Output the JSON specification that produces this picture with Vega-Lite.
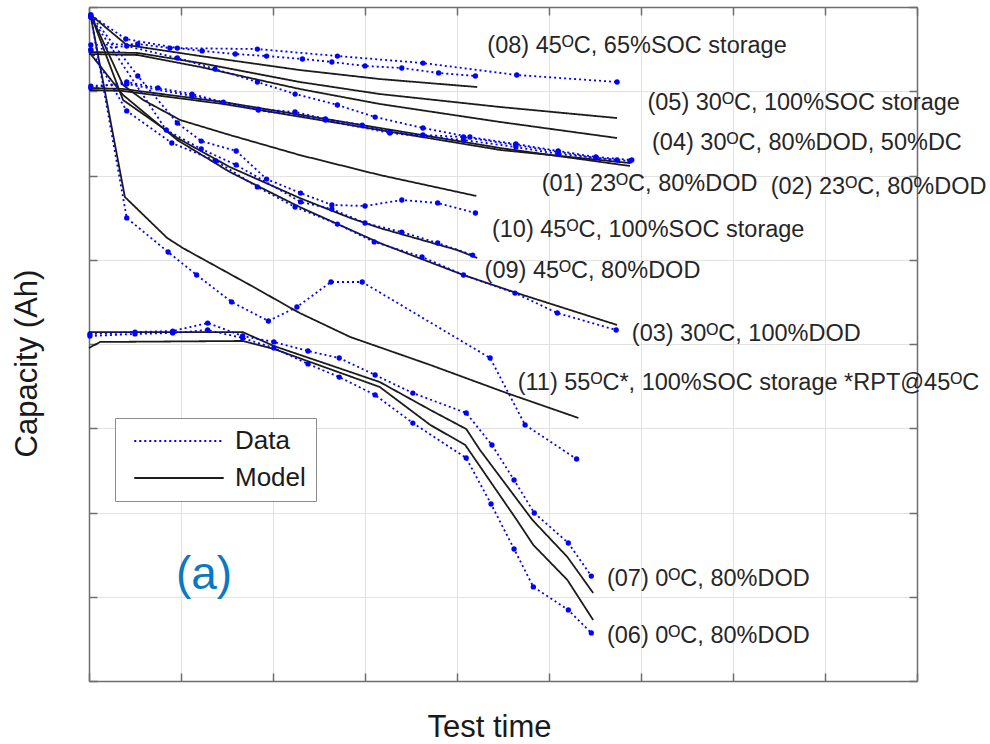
{
  "$schema": "https://vega.github.io/schema/vega-lite/v6.json",
  "width": 828,
  "height": 674,
  "autosize": "none",
  "padding": {"left": 89, "top": 7, "right": 73, "bottom": 63},
  "background": "white",
  "config": {"font": "Liberation Sans", "view": {"stroke": null}},
  "datasets": {
    "curves": [
      {"s": "08", "k": "Data", "t": 0.02, "c": 7.905},
      {"s": "08", "k": "Data", "t": 0.40, "c": 7.620},
      {"s": "08", "k": "Data", "t": 0.96, "c": 7.513},
      {"s": "08", "k": "Data", "t": 1.23, "c": 7.478},
      {"s": "08", "k": "Data", "t": 1.59, "c": 7.442},
      {"s": "08", "k": "Data", "t": 1.93, "c": 7.418},
      {"s": "08", "k": "Data", "t": 2.32, "c": 7.383},
      {"s": "08", "k": "Data", "t": 2.64, "c": 7.347},
      {"s": "08", "k": "Data", "t": 3.00, "c": 7.300},
      {"s": "08", "k": "Data", "t": 3.40, "c": 7.276},
      {"s": "08", "k": "Data", "t": 3.80, "c": 7.217},
      {"s": "08", "k": "Data", "t": 4.20, "c": 7.181},
      {"s": "08", "k": "Model", "t": 0.02, "c": 7.905},
      {"s": "08", "k": "Model", "t": 0.41, "c": 7.549},
      {"s": "08", "k": "Model", "t": 1.21, "c": 7.418},
      {"s": "08", "k": "Model", "t": 2.29, "c": 7.252},
      {"s": "08", "k": "Model", "t": 3.16, "c": 7.145},
      {"s": "08", "k": "Model", "t": 4.22, "c": 7.050},

      {"s": "05", "k": "Data", "t": 0.02, "c": 7.549},
      {"s": "05", "k": "Data", "t": 0.53, "c": 7.561},
      {"s": "05", "k": "Data", "t": 0.88, "c": 7.513},
      {"s": "05", "k": "Data", "t": 1.83, "c": 7.501},
      {"s": "05", "k": "Data", "t": 2.70, "c": 7.418},
      {"s": "05", "k": "Data", "t": 3.63, "c": 7.335},
      {"s": "05", "k": "Data", "t": 4.65, "c": 7.193},
      {"s": "05", "k": "Data", "t": 5.74, "c": 7.110},
      {"s": "05", "k": "Model", "t": 0.00, "c": 7.466},
      {"s": "05", "k": "Model", "t": 0.53, "c": 7.454},
      {"s": "05", "k": "Model", "t": 1.21, "c": 7.335},
      {"s": "05", "k": "Model", "t": 2.29, "c": 7.110},
      {"s": "05", "k": "Model", "t": 3.16, "c": 6.967},
      {"s": "05", "k": "Model", "t": 4.47, "c": 6.813},
      {"s": "05", "k": "Model", "t": 5.74, "c": 6.682},

      {"s": "04", "k": "Data", "t": 0.02, "c": 7.490},
      {"s": "04", "k": "Data", "t": 0.41, "c": 7.537},
      {"s": "04", "k": "Data", "t": 0.96, "c": 7.395},
      {"s": "04", "k": "Data", "t": 1.37, "c": 7.264},
      {"s": "04", "k": "Data", "t": 1.83, "c": 7.110},
      {"s": "04", "k": "Data", "t": 2.24, "c": 6.967},
      {"s": "04", "k": "Data", "t": 2.70, "c": 6.837},
      {"s": "04", "k": "Data", "t": 3.11, "c": 6.694},
      {"s": "04", "k": "Data", "t": 3.63, "c": 6.564},
      {"s": "04", "k": "Data", "t": 4.14, "c": 6.457},
      {"s": "04", "k": "Data", "t": 4.64, "c": 6.374},
      {"s": "04", "k": "Data", "t": 5.10, "c": 6.291},
      {"s": "04", "k": "Data", "t": 5.51, "c": 6.220},
      {"s": "04", "k": "Data", "t": 5.90, "c": 6.184},
      {"s": "04", "k": "Model", "t": 0.00, "c": 7.442},
      {"s": "04", "k": "Model", "t": 0.53, "c": 7.430},
      {"s": "04", "k": "Model", "t": 1.21, "c": 7.288},
      {"s": "04", "k": "Model", "t": 2.29, "c": 7.027},
      {"s": "04", "k": "Model", "t": 3.16, "c": 6.849},
      {"s": "04", "k": "Model", "t": 4.47, "c": 6.635},
      {"s": "04", "k": "Model", "t": 5.74, "c": 6.445},

      {"s": "01", "k": "Data", "t": 0.02, "c": 7.039},
      {"s": "01", "k": "Data", "t": 0.41, "c": 7.110},
      {"s": "01", "k": "Data", "t": 0.75, "c": 7.039},
      {"s": "01", "k": "Data", "t": 1.12, "c": 6.967},
      {"s": "01", "k": "Data", "t": 1.46, "c": 6.872},
      {"s": "01", "k": "Data", "t": 1.84, "c": 6.789},
      {"s": "01", "k": "Data", "t": 2.24, "c": 6.754},
      {"s": "01", "k": "Data", "t": 2.57, "c": 6.671},
      {"s": "01", "k": "Data", "t": 2.97, "c": 6.599},
      {"s": "01", "k": "Data", "t": 3.27, "c": 6.516},
      {"s": "01", "k": "Data", "t": 3.63, "c": 6.481},
      {"s": "01", "k": "Data", "t": 4.07, "c": 6.457},
      {"s": "01", "k": "Data", "t": 4.64, "c": 6.362},
      {"s": "01", "k": "Data", "t": 5.10, "c": 6.279},
      {"s": "01", "k": "Data", "t": 5.51, "c": 6.208},
      {"s": "01", "k": "Data", "t": 5.88, "c": 6.172},
      {"s": "01", "k": "Model", "t": 0.00, "c": 7.039},
      {"s": "01", "k": "Model", "t": 0.37, "c": 7.027},
      {"s": "01", "k": "Model", "t": 1.46, "c": 6.872},
      {"s": "01", "k": "Model", "t": 3.16, "c": 6.564},
      {"s": "01", "k": "Model", "t": 4.47, "c": 6.326},
      {"s": "01", "k": "Model", "t": 5.88, "c": 6.113},

      {"s": "02", "k": "Data", "t": 0.02, "c": 7.062},
      {"s": "02", "k": "Data", "t": 0.41, "c": 7.086},
      {"s": "02", "k": "Data", "t": 1.12, "c": 6.944},
      {"s": "02", "k": "Data", "t": 1.84, "c": 6.777},
      {"s": "02", "k": "Data", "t": 2.57, "c": 6.659},
      {"s": "02", "k": "Data", "t": 3.27, "c": 6.504},
      {"s": "02", "k": "Data", "t": 4.07, "c": 6.421},
      {"s": "02", "k": "Data", "t": 4.64, "c": 6.338},
      {"s": "02", "k": "Data", "t": 5.10, "c": 6.255},
      {"s": "02", "k": "Data", "t": 5.74, "c": 6.184},
      {"s": "02", "k": "Model", "t": 0.00, "c": 7.015},
      {"s": "02", "k": "Model", "t": 0.37, "c": 7.003},
      {"s": "02", "k": "Model", "t": 1.46, "c": 6.849},
      {"s": "02", "k": "Model", "t": 3.16, "c": 6.540},
      {"s": "02", "k": "Model", "t": 4.47, "c": 6.303},
      {"s": "02", "k": "Model", "t": 5.88, "c": 6.148},

      {"s": "10", "k": "Data", "t": 0.02, "c": 7.905},
      {"s": "10", "k": "Data", "t": 0.53, "c": 7.181},
      {"s": "10", "k": "Data", "t": 0.96, "c": 6.623},
      {"s": "10", "k": "Data", "t": 1.22, "c": 6.409},
      {"s": "10", "k": "Data", "t": 1.60, "c": 6.291},
      {"s": "10", "k": "Data", "t": 1.93, "c": 5.958},
      {"s": "10", "k": "Data", "t": 2.30, "c": 5.792},
      {"s": "10", "k": "Data", "t": 2.64, "c": 5.650},
      {"s": "10", "k": "Data", "t": 3.00, "c": 5.638},
      {"s": "10", "k": "Data", "t": 3.40, "c": 5.709},
      {"s": "10", "k": "Data", "t": 3.79, "c": 5.674},
      {"s": "10", "k": "Data", "t": 4.20, "c": 5.555},
      {"s": "10", "k": "Model", "t": 0.02, "c": 7.905},
      {"s": "10", "k": "Model", "t": 0.37, "c": 7.074},
      {"s": "10", "k": "Model", "t": 0.59, "c": 6.896},
      {"s": "10", "k": "Model", "t": 0.99, "c": 6.659},
      {"s": "10", "k": "Model", "t": 1.53, "c": 6.481},
      {"s": "10", "k": "Model", "t": 2.29, "c": 6.243},
      {"s": "10", "k": "Model", "t": 3.16, "c": 6.006},
      {"s": "10", "k": "Model", "t": 4.21, "c": 5.757},

      {"s": "09", "k": "Data", "t": 0.02, "c": 7.881},
      {"s": "09", "k": "Data", "t": 0.84, "c": 6.540},
      {"s": "09", "k": "Data", "t": 1.22, "c": 6.315},
      {"s": "09", "k": "Data", "t": 1.60, "c": 6.125},
      {"s": "09", "k": "Data", "t": 2.30, "c": 5.686},
      {"s": "09", "k": "Data", "t": 2.64, "c": 5.602},
      {"s": "09", "k": "Data", "t": 3.00, "c": 5.436},
      {"s": "09", "k": "Data", "t": 3.40, "c": 5.329},
      {"s": "09", "k": "Data", "t": 3.79, "c": 5.199},
      {"s": "09", "k": "Data", "t": 4.17, "c": 5.056},
      {"s": "09", "k": "Model", "t": 0.02, "c": 7.905},
      {"s": "09", "k": "Model", "t": 0.37, "c": 6.896},
      {"s": "09", "k": "Model", "t": 0.96, "c": 6.445},
      {"s": "09", "k": "Model", "t": 1.53, "c": 6.101},
      {"s": "09", "k": "Model", "t": 2.29, "c": 5.733},
      {"s": "09", "k": "Model", "t": 2.84, "c": 5.496},
      {"s": "09", "k": "Model", "t": 3.16, "c": 5.377},
      {"s": "09", "k": "Model", "t": 4.00, "c": 5.116},
      {"s": "09", "k": "Model", "t": 4.22, "c": 5.021},

      {"s": "03", "k": "Data", "t": 0.02, "c": 7.490},
      {"s": "03", "k": "Data", "t": 0.41, "c": 6.766},
      {"s": "03", "k": "Data", "t": 0.90, "c": 6.386},
      {"s": "03", "k": "Data", "t": 1.38, "c": 6.172},
      {"s": "03", "k": "Data", "t": 1.83, "c": 5.864},
      {"s": "03", "k": "Data", "t": 2.24, "c": 5.626},
      {"s": "03", "k": "Data", "t": 2.70, "c": 5.424},
      {"s": "03", "k": "Data", "t": 3.10, "c": 5.211},
      {"s": "03", "k": "Data", "t": 3.62, "c": 5.033},
      {"s": "03", "k": "Data", "t": 4.07, "c": 4.819},
      {"s": "03", "k": "Data", "t": 4.63, "c": 4.605},
      {"s": "03", "k": "Data", "t": 5.09, "c": 4.368},
      {"s": "03", "k": "Data", "t": 5.73, "c": 4.166},
      {"s": "03", "k": "Model", "t": 0.00, "c": 7.466},
      {"s": "03", "k": "Model", "t": 0.37, "c": 6.956},
      {"s": "03", "k": "Model", "t": 0.96, "c": 6.421},
      {"s": "03", "k": "Model", "t": 1.53, "c": 6.042},
      {"s": "03", "k": "Model", "t": 2.29, "c": 5.626},
      {"s": "03", "k": "Model", "t": 3.16, "c": 5.199},
      {"s": "03", "k": "Model", "t": 4.07, "c": 4.819},
      {"s": "03", "k": "Model", "t": 4.65, "c": 4.605},
      {"s": "03", "k": "Model", "t": 5.74, "c": 4.226},

      {"s": "11", "k": "Data", "t": 0.02, "c": 7.881},
      {"s": "11", "k": "Data", "t": 0.41, "c": 5.496},
      {"s": "11", "k": "Data", "t": 0.86, "c": 5.092},
      {"s": "11", "k": "Data", "t": 1.17, "c": 4.819},
      {"s": "11", "k": "Data", "t": 1.55, "c": 4.499},
      {"s": "11", "k": "Data", "t": 1.95, "c": 4.273},
      {"s": "11", "k": "Data", "t": 2.26, "c": 4.439},
      {"s": "11", "k": "Data", "t": 2.63, "c": 4.736},
      {"s": "11", "k": "Data", "t": 2.97, "c": 4.736},
      {"s": "11", "k": "Data", "t": 4.36, "c": 3.834},
      {"s": "11", "k": "Data", "t": 4.74, "c": 3.039},
      {"s": "11", "k": "Data", "t": 5.30, "c": 2.635},
      {"s": "11", "k": "Model", "t": 0.02, "c": 7.881},
      {"s": "11", "k": "Model", "t": 0.39, "c": 5.745},
      {"s": "11", "k": "Model", "t": 0.85, "c": 5.258},
      {"s": "11", "k": "Model", "t": 1.02, "c": 5.139},
      {"s": "11", "k": "Model", "t": 1.75, "c": 4.700},
      {"s": "11", "k": "Model", "t": 2.29, "c": 4.368},
      {"s": "11", "k": "Model", "t": 2.84, "c": 4.083},
      {"s": "11", "k": "Model", "t": 3.71, "c": 3.751},
      {"s": "11", "k": "Model", "t": 4.54, "c": 3.418},
      {"s": "11", "k": "Model", "t": 5.32, "c": 3.122},

      {"s": "07", "k": "Data", "t": 0.01, "c": 4.119},
      {"s": "07", "k": "Data", "t": 0.50, "c": 4.142},
      {"s": "07", "k": "Data", "t": 0.91, "c": 4.154},
      {"s": "07", "k": "Data", "t": 1.29, "c": 4.249},
      {"s": "07", "k": "Data", "t": 1.67, "c": 4.095},
      {"s": "07", "k": "Data", "t": 2.01, "c": 4.024},
      {"s": "07", "k": "Data", "t": 2.38, "c": 3.917},
      {"s": "07", "k": "Data", "t": 2.72, "c": 3.834},
      {"s": "07", "k": "Data", "t": 3.11, "c": 3.632},
      {"s": "07", "k": "Data", "t": 3.52, "c": 3.418},
      {"s": "07", "k": "Data", "t": 4.10, "c": 3.181},
      {"s": "07", "k": "Data", "t": 4.38, "c": 2.801},
      {"s": "07", "k": "Data", "t": 4.62, "c": 2.386},
      {"s": "07", "k": "Data", "t": 4.84, "c": 1.994},
      {"s": "07", "k": "Data", "t": 5.21, "c": 1.638},
      {"s": "07", "k": "Data", "t": 5.46, "c": 1.246},
      {"s": "07", "k": "Model", "t": 0.00, "c": 4.142},
      {"s": "07", "k": "Model", "t": 1.67, "c": 4.142},
      {"s": "07", "k": "Model", "t": 2.01, "c": 3.976},
      {"s": "07", "k": "Model", "t": 3.16, "c": 3.549},
      {"s": "07", "k": "Model", "t": 3.71, "c": 3.217},
      {"s": "07", "k": "Model", "t": 4.10, "c": 2.991},
      {"s": "07", "k": "Model", "t": 4.25, "c": 2.742},
      {"s": "07", "k": "Model", "t": 4.82, "c": 1.911},
      {"s": "07", "k": "Model", "t": 5.20, "c": 1.472},
      {"s": "07", "k": "Model", "t": 5.48, "c": 1.045},

      {"s": "06", "k": "Data", "t": 0.01, "c": 4.095},
      {"s": "06", "k": "Data", "t": 0.50, "c": 4.119},
      {"s": "06", "k": "Data", "t": 0.91, "c": 4.131},
      {"s": "06", "k": "Data", "t": 1.29, "c": 4.166},
      {"s": "06", "k": "Data", "t": 1.67, "c": 4.071},
      {"s": "06", "k": "Data", "t": 2.01, "c": 3.953},
      {"s": "06", "k": "Data", "t": 2.38, "c": 3.763},
      {"s": "06", "k": "Data", "t": 2.72, "c": 3.608},
      {"s": "06", "k": "Data", "t": 3.11, "c": 3.395},
      {"s": "06", "k": "Data", "t": 3.52, "c": 3.062},
      {"s": "06", "k": "Data", "t": 4.10, "c": 2.647},
      {"s": "06", "k": "Data", "t": 4.37, "c": 2.101},
      {"s": "06", "k": "Data", "t": 4.62, "c": 1.567},
      {"s": "06", "k": "Data", "t": 4.83, "c": 1.116},
      {"s": "06", "k": "Data", "t": 5.21, "c": 0.843},
      {"s": "06", "k": "Data", "t": 5.46, "c": 0.570},
      {"s": "06", "k": "Model", "t": 0.00, "c": 3.953},
      {"s": "06", "k": "Model", "t": 0.12, "c": 4.024},
      {"s": "06", "k": "Model", "t": 1.67, "c": 4.036},
      {"s": "06", "k": "Model", "t": 2.01, "c": 3.941},
      {"s": "06", "k": "Model", "t": 3.16, "c": 3.490},
      {"s": "06", "k": "Model", "t": 3.71, "c": 3.039},
      {"s": "06", "k": "Model", "t": 4.09, "c": 2.801},
      {"s": "06", "k": "Model", "t": 4.65, "c": 1.911},
      {"s": "06", "k": "Model", "t": 4.83, "c": 1.614},
      {"s": "06", "k": "Model", "t": 5.20, "c": 1.199},
      {"s": "06", "k": "Model", "t": 5.48, "c": 0.724}
    ],
    "labels": [
      {"t": 4.33, "c": 7.537, "text": "(08) 45ᴼC, 65%SOC storage"},
      {"t": 6.07, "c": 6.861, "text": "(05) 30ᴼC, 100%SOC storage"},
      {"t": 6.12, "c": 6.386, "text": "(04) 30ᴼC, 80%DOD, 50%DC"},
      {"t": 4.92, "c": 5.899, "text": "(01) 23ᴼC, 80%DOD"},
      {"t": 7.41, "c": 5.864, "text": "(02) 23ᴼC, 80%DOD"},
      {"t": 4.38, "c": 5.353, "text": "(10) 45ᴼC, 100%SOC storage"},
      {"t": 4.30, "c": 4.866, "text": "(09) 45ᴼC, 80%DOD"},
      {"t": 5.90, "c": 4.119, "text": "(03) 30ᴼC, 100%DOD"},
      {"t": 4.66, "c": 3.537, "text": "(11) 55ᴼC*, 100%SOC storage *RPT@45ᴼC"},
      {"t": 5.63, "c": 1.211, "text": "(07) 0ᴼC, 80%DOD"},
      {"t": 5.63, "c": 0.534, "text": "(06) 0ᴼC, 80%DOD"}
    ],
    "panel": [{"t": 1.25, "c": 1.09, "text": "(a)"}]
  },
  "resolve": {"axis": {"x": "independent", "y": "independent"}},
  "layer": [
    {
      "data": {"name": "curves"},
      "transform": [{"filter": "datum.k === 'Model'"}],
      "mark": {"type": "line", "strokeWidth": 1.8, "strokeCap": "butt"},
      "encoding": {
        "x": {
          "field": "t", "type": "quantitative",
          "scale": {"domain": [0, 9], "nice": false, "zero": false},
          "axis": {
            "orient": "bottom", "values": [0, 1, 2, 3, 4, 5, 6, 7, 8, 9],
            "labels": false, "tickSize": -8, "tickColor": "#6e6e6e", "tickWidth": 1.5,
            "domainColor": "#6e6e6e", "domainWidth": 1.5,
            "grid": true, "gridColor": "#e2e2e2", "gridWidth": 1,
            "title": "Test time", "titleFont": "Liberation Sans", "titleFontSize": 31,
            "titleFontWeight": "normal", "titleColor": "#1a1a1a",
            "titleX": 400, "titleY": 55, "titleBaseline": "alphabetic", "titleAlign": "center"
          }
        },
        "y": {
          "field": "c", "type": "quantitative",
          "scale": {"domain": [0, 8], "nice": false, "zero": false},
          "axis": {
            "orient": "left", "values": [0, 1, 2, 3, 4, 5, 6, 7, 8],
            "labels": false, "tickSize": -8, "tickColor": "#6e6e6e", "tickWidth": 1.5,
            "domainColor": "#6e6e6e", "domainWidth": 1.5,
            "grid": true, "gridColor": "#e2e2e2", "gridWidth": 1,
            "title": "Capacity (Ah)", "titleFont": "Liberation Sans", "titleFontSize": 31,
            "titleFontWeight": "normal", "titleColor": "#1a1a1a",
            "titleX": -53, "titleY": 356, "titleBaseline": "alphabetic", "titleAlign": "center"
          }
        },
        "detail": {"field": "s"},
        "color": {
          "field": "k", "type": "nominal",
          "scale": {"domain": ["Data", "Model"], "range": ["#0000ff", "#1c1c1c"]},
          "legend": {
            "title": null, "orient": "none", "legendX": 26, "legendY": 411,
            "direction": "vertical", "symbolType": "M-4,0H4", "symbolSize": 500,
            "symbolStrokeWidth": 2, "symbolOffset": 41, "labelOffset": 43,
            "labelFont": "Liberation Sans", "labelFontSize": 26, "labelColor": "#1a1a1a",
            "labelLimit": 300, "padding": 10, "rowPadding": 11,
            "strokeColor": "#8c8c8c", "fillColor": "white"
          }
        },
        "strokeDash": {
          "field": "k", "type": "nominal",
          "scale": {"domain": ["Data", "Model"], "range": [[2, 3], [1, 0]]}
        }
      }
    },
    {
      "data": {"name": "curves"},
      "transform": [{"filter": "datum.k === 'Data'"}],
      "mark": {"type": "line", "strokeWidth": 1.8, "strokeCap": "butt"},
      "encoding": {
        "x": {"field": "t", "type": "quantitative", "axis": null},
        "y": {"field": "c", "type": "quantitative", "axis": null},
        "detail": {"field": "s"},
        "color": {"field": "k", "type": "nominal"},
        "strokeDash": {"field": "k", "type": "nominal"}
      }
    },
    {
      "data": {"name": "curves"},
      "transform": [{"filter": "datum.k === 'Data'"}],
      "mark": {"type": "point", "filled": true, "size": 28, "color": "#0000ff", "opacity": 1},
      "encoding": {
        "x": {"field": "t", "type": "quantitative", "axis": null},
        "y": {"field": "c", "type": "quantitative", "axis": null}
      }
    },
    {
      "data": {"name": "labels"},
      "mark": {"type": "text", "align": "left", "baseline": "middle", "font": "Liberation Sans", "fontSize": 23.5, "color": "#262626"},
      "encoding": {
        "x": {
          "field": "t", "type": "quantitative",
          "axis": {
            "orient": "top", "values": [0, 1, 2, 3, 4, 5, 6, 7, 8, 9],
            "labels": false, "tickSize": -8, "tickColor": "#6e6e6e", "tickWidth": 1.5,
            "domainColor": "#6e6e6e", "domainWidth": 1.5, "grid": false, "title": null
          }
        },
        "y": {
          "field": "c", "type": "quantitative",
          "axis": {
            "orient": "right", "values": [0, 1, 2, 3, 4, 5, 6, 7, 8],
            "labels": false, "tickSize": -8, "tickColor": "#6e6e6e", "tickWidth": 1.5,
            "domainColor": "#6e6e6e", "domainWidth": 1.5, "grid": false, "title": null
          }
        },
        "text": {"field": "text"}
      }
    },
    {
      "data": {"name": "panel"},
      "mark": {"type": "text", "align": "center", "baseline": "alphabetic", "font": "Liberation Sans", "fontSize": 46, "color": "#0b78c2"},
      "encoding": {
        "x": {"field": "t", "type": "quantitative", "axis": null},
        "y": {"field": "c", "type": "quantitative", "axis": null},
        "text": {"field": "text"}
      }
    }
  ]
}
